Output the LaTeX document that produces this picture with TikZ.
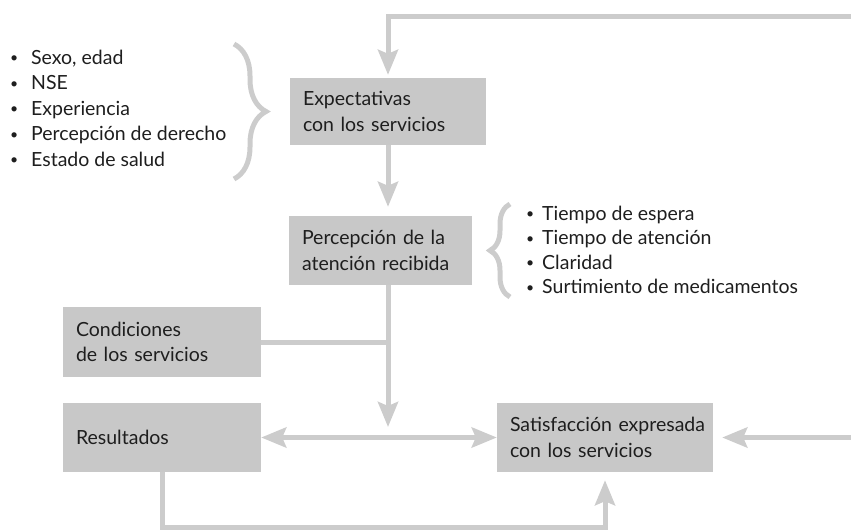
\documentclass[tikz,border=0pt]{standalone}
\usepackage{fontspec}
\setmainfont{Lato}
\usetikzlibrary{arrows.meta,decorations.pathreplacing}
\definecolor{boxgray}{RGB}{200,200,200}
\definecolor{linegray}{RGB}{204,204,204}
\definecolor{ink}{RGB}{30,30,30}
\newcommand{\smbul}{\raisebox{1.2pt}{\fontsize{14}{14}\selectfont\textbullet}}
\begin{document}
\begin{tikzpicture}[x=1pt,y=-1pt,
  font=\fontsize{19.5}{25.5}\selectfont, text=ink,
  box/.style={fill=boxgray, draw=none, inner xsep=13pt, inner ysep=0pt, align=left, anchor=center},
  item/.style={anchor=base west, inner sep=0pt},
  conn/.style={draw=linegray, line width=5pt},
  tip/.tip={Stealth[width=20pt,length=25pt,inset=4pt]},
  arr/.style={conn, -tip},
  darr/.style={conn, tip-tip},
  brc/.style={draw=linegray, line width=5pt, decorate}
]
\useasboundingbox (0,0) rectangle (851,531);

% boxes
\node[box, text width=170pt, minimum height=67pt] (exp) at (388,111.5) {\mbox{Expectativas}\\\mbox{con los servicios}};
\node[box, text width=157pt, minimum height=69pt] (perc) at (380.5,250.5) {\mbox{Percepción de la}\\\mbox{atención recibida}};
\node[box, text width=172pt, minimum height=70pt] (cond) at (162,342) {\mbox{Condiciones}\\\mbox{de los servicios}};
\node[box, text width=172pt, minimum height=69pt] (res) at (162,437.5) {Resultados};
\node[box, text width=190pt, minimum height=69pt] (sat) at (605,437.5) {\mbox{Satisfacción expresada}\\\mbox{con los servicios}};

% left list
\node[item] (la) at (10,64) {\makebox[21pt][l]{\smbul}Sexo, edad};
\node[item] (lb) at (10,89.5) {\makebox[21pt][l]{\smbul}NSE};
\node[item] (lc) at (10,115) {\makebox[21pt][l]{\smbul}Experiencia};
\node[item] (ld) at (10,140.5) {\makebox[21pt][l]{\smbul}Percepción de derecho};
\node[item] (le) at (10,166) {\makebox[21pt][l]{\smbul}Estado de salud};

% right list
\node[item] (ra) at (526,220) {\makebox[16pt][l]{\smbul}Tiempo de espera};
\node[item] (rb) at (526,244.5) {\makebox[16pt][l]{\smbul}Tiempo de atención};
\node[item] (rc) at (526,269) {\makebox[16pt][l]{\smbul}Claridad};
\node[item] (rd) at (526,293.5) {\makebox[16pt][l]{\smbul}Surtimiento de medicamentos};

% braces
\coordinate (b1t) at (234,44);
\coordinate (b1b) at (234,179);
\draw[brc, decoration={brace, amplitude=32pt}] (b1t) -- (b1b);
\coordinate (b2t) at (510,204);
\coordinate (b2b) at (510,297);
\draw[brc, decoration={brace, amplitude=20pt}] (b2b) -- (b2t);

% connectors
\coordinate (topR) at (851,16);
\coordinate (topL) at (388,16);
\draw[arr, shorten >=3pt] (topR) -- (topL) -- (exp.north);
\draw[arr, shorten >=9pt] (exp.south) -- (exp.south |- perc.north);
\coordinate (vend) at (388,427);
\draw[arr] (exp.south |- perc.south) -- (vend);
\draw[conn] (cond.east) -- (cond.east -| vend);
\draw[darr] (res.east) -- (sat.west);
\coordinate (rightR) at (851,437.5);
\draw[arr, shorten >=9pt] (rightR) -- (sat.east);
\coordinate (bl) at (163,527);
\draw[arr, shorten >=8pt] (res.south) -- (res.south |- bl) -- (sat.south |- bl) -- (sat.south);
\end{tikzpicture}
\end{document}
